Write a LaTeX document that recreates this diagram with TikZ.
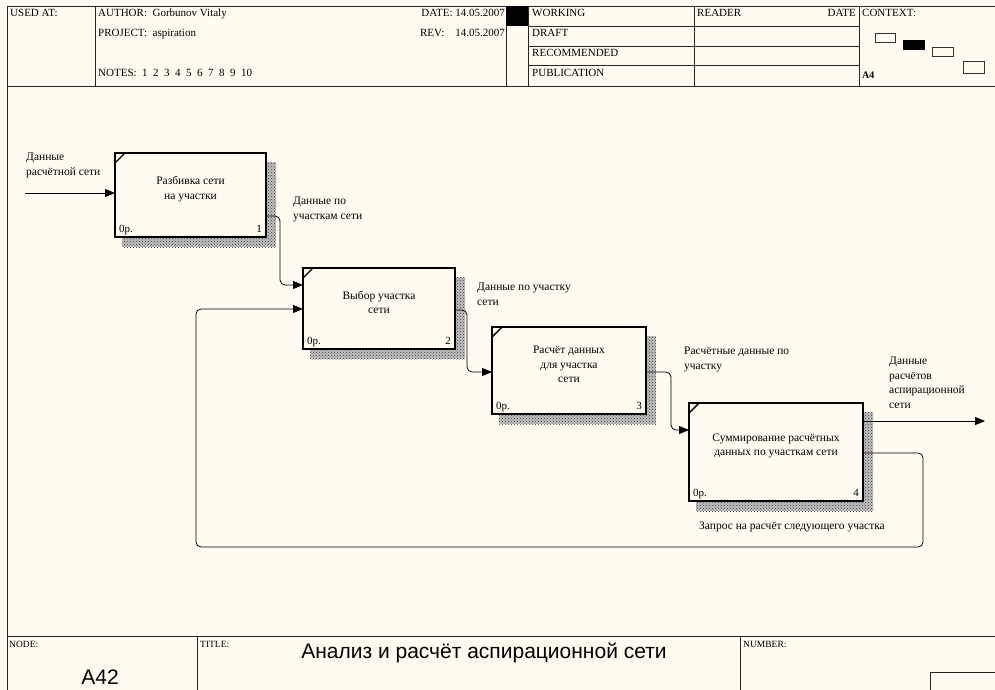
\documentclass[tikz,border=0pt]{standalone}
\usepackage{fontspec}
\setmainfont{Liberation Serif}
\newfontfamily\sansf{Liberation Sans}
\usetikzlibrary{arrows.meta,patterns}
\definecolor{bg}{HTML}{FFFBF0}
\tikzset{
  frame/.style={line width=0.9pt, draw=black!85},
  hdr/.style={font=\fontsize{11}{12}\selectfont, anchor=base west, inner sep=0pt},
  small/.style={font=\fontsize{9.5}{10}\selectfont, anchor=base west, inner sep=0pt},
  lbl/.style={font=\fontsize{11.5}{14.5}\selectfont, anchor=north west, inner sep=0pt, align=left},
  boxtext/.style={font=\fontsize{11.5}{14.5}\selectfont, inner sep=0pt, align=center},
  box/.style={draw, line width=2.8pt, fill=bg, anchor=north west, inner sep=0pt, outer sep=0pt},
  shadowfill/.style={fill=black!25, postaction={pattern=crosshatch dots, pattern color=black!75}},
  arr/.style={-{Triangle[length=10pt,width=8pt]}, line width=0.8pt, rounded corners=5pt},
  cornum/.style={font=\fontsize{11}{12}\selectfont, inner sep=0pt}
}
\newcommand\mkbox[7]{%
  \fill[shadowfill] ({#2+7},{#3+9}) rectangle ({#2+#4+10},{#3+#5+10});
  \node[box, minimum width=#4pt, minimum height=#5pt] (#1) at (#2,#3) {};
  \draw[line width=1.4pt] ([yshift=-10pt]#1.north west) -- ([xshift=10pt]#1.north west);
  \node[cornum, anchor=base west] (#1c) at ([shift={(4pt,5pt)}]#1.south west) {0р.};
  \node[cornum, anchor=base east] (#1n) at ([shift={(-4pt,5pt)}]#1.south east) {#7};
  \node[boxtext] (#1t) at ([yshift=6pt]#1.center) {#6};
}
\begin{document}
\begin{tikzpicture}[x=1pt,y=-1pt]
\useasboundingbox (0,0) rectangle (995,690);
\fill[bg] (0,0) rectangle (995,690);

% ---------- header ----------
\draw[frame] (995,6) -- (7,6) -- (7,690);
\draw[frame] (7,86) -- (995,86);
\draw[frame] (95,6) -- (95,86);
\draw[frame] (506,6) -- (506,86);
\draw[frame] (528,6) -- (528,86);
\draw[frame] (694,6) -- (694,86);
\draw[frame] (859,6) -- (859,86);
\draw[frame] (528,26) -- (859,26);
\draw[frame] (528,46) -- (859,46);
\draw[frame] (528,65) -- (859,65);
\fill[black] (506,6) rectangle (528,26);

\node[hdr] (usedat) at (10,17) {USED AT:};
\node[hdr] (author) at (98,17) {AUTHOR:\ \ Gorbunov Vitaly};
\node[hdr] (project) at (98,37) {PROJECT:\ \ aspiration};
\node[hdr] (notes) at (98,77) {NOTES:\ \ 1\ \ 2\ \ 3\ \ 4\ \ 5\ \ 6\ \ 7\ \ 8\ \ 9\ \ 10};
\node[hdr, anchor=base east] (date) at (505,17) {DATE: 14.05.2007};
\node[hdr, anchor=base east] (rev) at (505,37) {REV:\ \ \ \ 14.05.2007};
\node[hdr] (working) at (532,17) {WORKING};
\node[hdr] (draft) at (532,37) {DRAFT};
\node[hdr] (recom) at (532,57) {RECOMMENDED};
\node[hdr] (publ) at (532,77) {PUBLICATION};
\node[hdr] (reader) at (697,17) {READER};
\node[hdr, anchor=base east] (rdate) at (856,17) {DATE};
\node[hdr] (context) at (862,17) {CONTEXT:};
\node[hdr, font=\bfseries\fontsize{10}{12}\selectfont] (afour) at (862,79) {A4};
\draw[line width=0.8pt, draw=black!80] (875,33) rectangle (895,42);
\fill[black] (903,40) rectangle (925,50);
\draw[line width=0.8pt, draw=black!80] (932,47) rectangle (953,56);
\draw[line width=0.8pt, draw=black!80] (963,61) rectangle (984,73);

% ---------- footer ----------
\draw[frame] (7,636) -- (995,636);
\draw[frame] (197,636) -- (197,690);
\draw[frame] (740,636) -- (740,690);
\draw[frame] (930,695) -- (930,672) -- (995,672);
\node[small] (nodel) at (9,647) {NODE:};
\node[small] (titlel) at (200,647) {TITLE:};
\node[small] (numl) at (743,647) {NUMBER:};
\node[font=\sansf\fontsize{21}{23}\selectfont, anchor=base] (nodeid) at (100,684) {A42};
\node[font=\sansf\fontsize{21}{23}\selectfont, anchor=base] (title) at (484,658) {Анализ и расчёт аспирационной сети};

% ---------- boxes ----------
\mkbox{b1}{115}{153}{151}{84}{Разбивка сети\\на участки}{1}
\mkbox{b2}{303}{268}{152}{81}{Выбор участка\\сети}{2}
\mkbox{b3}{492}{327}{154}{87}{Расчёт данных\\для участка\\сети}{3}
\mkbox{b4}{689}{403}{174}{98}{Суммирование расчётных\\данных по участкам сети}{4}

% ---------- connectors ----------
\coordinate (in1) at (25,193);
\coordinate (out1) at (985,421);
\draw[arr] (in1) -- (b1.west |- in1);
\draw[arr] (b1.east |- 0,216) -- (280,216) -- (280,285) -- (b2.west |- 0,285);
\draw[arr] (b2.east |- 0,310) -- (467,310) -- (467,372) -- (b3.west |- 0,372);
\draw[arr] (b3.east |- 0,372) -- (671,372) -- (671,430) -- (b4.west |- 0,430);
\draw[arr] (b4.east |- out1) -- (out1);
\draw[arr] (b4.east |- 0,453) -- (923,453) -- (923,547) -- (196,547) -- (196,309) -- (b2.west |- 0,309);

% ---------- labels ----------
\node[lbl] (l0) at (26,153) {Данные\\расчётной сети};
\node[lbl] (l1) at (293,197) {Данные по\\участкам сети};
\node[lbl] (l2) at (477,283) {Данные по участку\\сети};
\node[lbl] (l3) at (684,347) {Расчётные данные по\\участку};
\node[lbl] (l4) at (889,357) {Данные\\расчётов\\аспирационной\\сети};
\node[lbl] (l5) at (699,522) {Запрос на расчёт следующего участка};
\end{tikzpicture}
\end{document}
